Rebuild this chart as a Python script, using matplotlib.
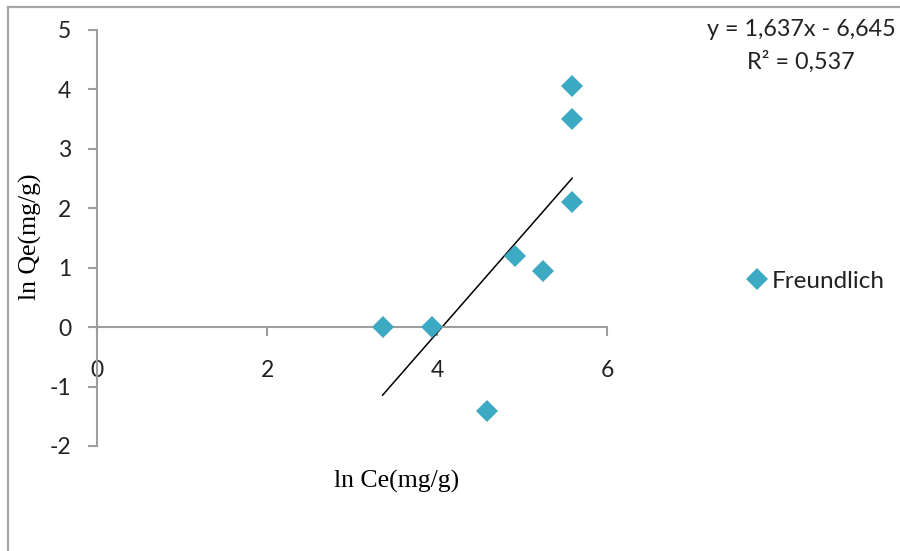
import numpy as np
import matplotlib.pyplot as plt
from matplotlib.lines import Line2D

plt.rcParams['axes.unicode_minus'] = False

# Freundlich isotherm data (ln Ce, ln Qe)
ln_ce = [3.36, 3.94, 4.59, 4.92, 5.25, 5.59, 5.59, 5.59]
ln_qe = [0.0, 0.0, -1.41, 1.20, 0.95, 2.11, 3.50, 4.06]
slope, intercept = 1.637, -6.645
x_ticks = [0, 2, 4, 6]
y_ticks = [-2, -1, 0, 1, 2, 3, 4, 5]

marker_col = '#3DAAC3'
axis_col = '#9E9E9E'
txt_col = '#222222'

fig = plt.figure(figsize=(9, 5.51), dpi=100)
W, H = 900, 551
ax = fig.add_axes([97 / W, 1 - 446 / H, (607 - 97) / W, (446 - 30) / H])

ax.plot(ln_ce, ln_qe, 'D', color=marker_col, markersize=11, label='Freundlich',
        markeredgewidth=0, zorder=3)
xs = np.array([min(ln_ce), max(ln_ce)])
ax.plot(xs, slope * xs + intercept, color='black', lw=1.1, zorder=2)

ax.set_xlim(0, 6)
ax.set_ylim(-2, 5)
ax.set_xticks(x_ticks)
ax.set_yticks(y_ticks)

for s in ['top', 'right']:
    ax.spines[s].set_visible(False)
ax.spines['bottom'].set_position(('data', 0))
for s in ['left', 'bottom']:
    ax.spines[s].set_color(axis_col)
    ax.spines[s].set_linewidth(1.5)

ax.tick_params(axis='both', direction='out', length=6.5, width=1.5, color=axis_col,
               labelsize=16.5, labelcolor=txt_col)
ax.tick_params(axis='x', pad=17)
ax.tick_params(axis='y', pad=12)
for lab in ax.get_xticklabels() + ax.get_yticklabels():
    lab.set_family('Lato')

fig.text(30 / W, 1 - 237 / H, 'ln Qe(mg/g)', rotation=90, ha='center', va='center',
         family='Liberation Serif', fontsize=18.5)
fig.text(397 / W, 1 - 481 / H, 'ln Ce(mg/g)', ha='center', va='center',
         family='Liberation Serif', fontsize=18.5)

fig.text(801 / W, 1 - 30 / H, 'y = 1,637x - 6,645', ha='center', va='center',
         family='Lato', fontsize=16.8, color=txt_col)
fig.text(801 / W, 1 - 62 / H, 'R² = 0,537', ha='center', va='center',
         family='Lato', fontsize=16.8, color=txt_col)

leg = ax.legend(loc='center left', bbox_to_anchor=(745 / W, 1 - 281 / H),
                bbox_transform=fig.transFigure, frameon=False, handletextpad=0.1,
                prop={'family': 'Lato', 'size': 17.5}, handlelength=1.0,
                borderpad=0, borderaxespad=0)
for t in leg.get_texts():
    t.set_color(txt_col)

# chart frame (only top and left edges visible)
fig.add_artist(Line2D([8 / W, 1], [1 - 7 / H, 1 - 7 / H], color='#A6A6A6', lw=1.6,
                      transform=fig.transFigure))
fig.add_artist(Line2D([8 / W, 8 / W], [0, 1 - 7 / H], color='#A6A6A6', lw=1.6,
                      transform=fig.transFigure))

plt.savefig('out.png', dpi=100)
